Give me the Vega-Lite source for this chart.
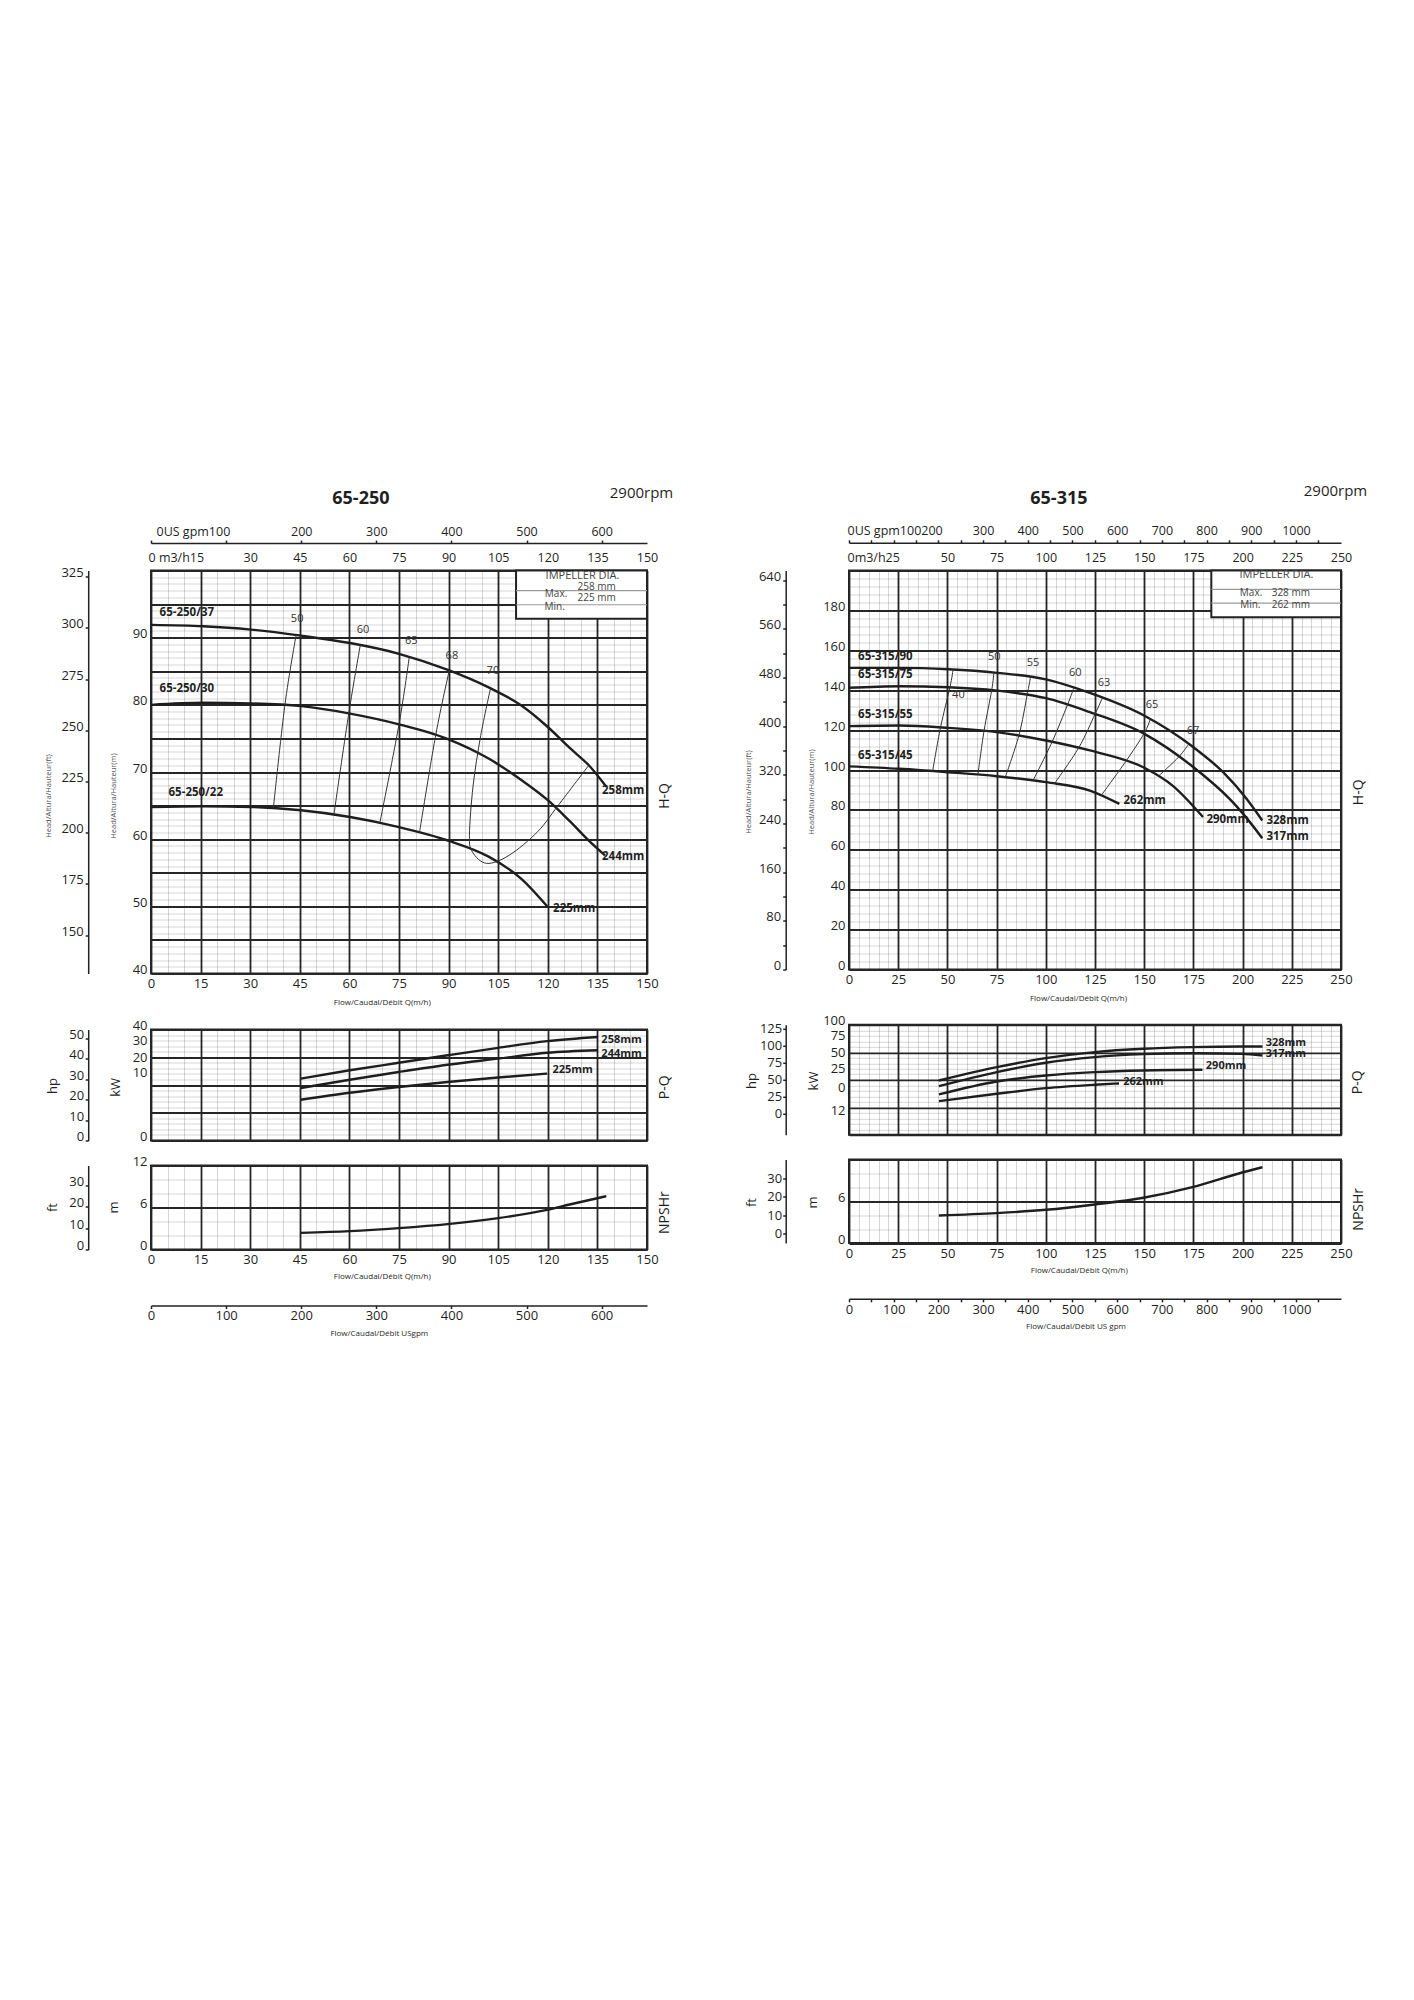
{
"$schema": "https://vega.github.io/schema/vega-lite/v6.json",
"background": "white",
"padding": {"left": 43, "top": 481.5, "right": 5, "bottom": 5},
"config": {
  "font": "Open Sans",
  "view": {"stroke": "#222222", "strokeWidth": 2},
  "axis": {"labelFont": "Open Sans", "titleFont": "Open Sans", "labelColor": "#1f1f1f", "titleColor": "#1f1f1f", "labelFontSize": 13, "titleFontWeight": "normal", "titleFontSize": 14, "labelFlush": false, "labelOverlap": false, "labelBound": false, "grid": false, "ticks": false, "domain": false, "domainColor": "#222222", "domainWidth": 1.5, "tickColor": "#222222", "tickWidth": 1.5, "tickSize": 3, "titlePadding": 0}
},
"datasets": {
  "hqL": [
    {"d":"258","q":0,"h":91.9},{"d":"258","q":15.8,"h":91.7},{"d":"258","q":30.3,"h":91.2},{"d":"258","q":45.4,"h":90.3},{"d":"258","q":60.2,"h":89.2},{"d":"258","q":75,"h":87.6},{"d":"258","q":89.8,"h":85.2},{"d":"258","q":102.1,"h":82.6},{"d":"258","q":112,"h":79.9},{"d":"258","q":120,"h":76.7},{"d":"258","q":126.8,"h":73.5},{"d":"258","q":132.4,"h":71},{"d":"258","q":137.7,"h":67.8},
    {"d":"244","q":0,"h":80},{"d":"244","q":15.8,"h":80.3},{"d":"244","q":30.3,"h":80.2},{"d":"244","q":45.4,"h":79.8},{"d":"244","q":60.2,"h":78.7},{"d":"244","q":75,"h":77.1},{"d":"244","q":89.8,"h":74.9},{"d":"244","q":102.1,"h":72},{"d":"244","q":112,"h":68.8},{"d":"244","q":120,"h":65.8},{"d":"244","q":126.8,"h":62.6},{"d":"244","q":132.4,"h":59.8},{"d":"244","q":137.3,"h":57.6},
    {"d":"225","q":0,"h":64.8},{"d":"225","q":15.8,"h":64.9},{"d":"225","q":30.3,"h":64.8},{"d":"225","q":45.4,"h":64.3},{"d":"225","q":60.2,"h":63.3},{"d":"225","q":75,"h":61.8},{"d":"225","q":89.8,"h":59.8},{"d":"225","q":102.1,"h":57.4},{"d":"225","q":112,"h":54.1},{"d":"225","q":120,"h":49.9}
  ],
  "effL": [
    {"e":"50","o":1,"q":43.9,"h":90.4},{"e":"50","o":2,"q":40.5,"h":80.0},{"e":"50","o":3,"q":37.0,"h":64.6},
    {"e":"60","o":1,"q":63.3,"h":88.9},{"e":"60","o":2,"q":59.8,"h":78.7},{"e":"60","o":3,"q":55.3,"h":63.6},
    {"e":"65","o":1,"q":78.1,"h":87.1},{"e":"65","o":2,"q":75.0,"h":77.1},{"e":"65","o":3,"q":69.2,"h":62.4},
    {"e":"68","o":1,"q":90.2,"h":85.1},{"e":"68","o":2,"q":86.1,"h":75.5},{"e":"68","o":3,"q":81.2,"h":61.0},
    {"e":"70","o":1,"q":102.7,"h":82.5},{"e":"70","o":2,"q":99.7,"h":75.4},{"e":"70","o":3,"q":97.4,"h":67.9},{"e":"70","o":4,"q":96.3,"h":60.6},{"e":"70","o":5,"q":97.2,"h":58.1},{"e":"70","o":6,"q":101.5,"h":56.4},{"e":"70","o":7,"q":108.3,"h":57.6},{"e":"70","o":8,"q":116.9,"h":61.1},{"e":"70","o":9,"q":123.1,"h":65.0},{"e":"70","o":10,"q":132.4,"h":71.0}
  ],
  "labL": [
    {"q":2.6,"h":93.7,"t":"65-250/37"},{"q":2.6,"h":82.4,"t":"65-250/30"},{"q":5.3,"h":66.9,"t":"65-250/22"},
    {"q":136.4,"h":67.2,"t":"258mm"},{"q":136.4,"h":57.3,"t":"244mm"},{"q":121.6,"h":49.6,"t":"225mm"}
  ],
  "effLabL": [
    {"q":44.2,"h":92.8,"t":"50"},{"q":64.1,"h":91.2,"t":"60"},{"q":78.7,"h":89.5,"t":"65"},{"q":91.0,"h":87.2,"t":"68"},{"q":103.4,"h":85.0,"t":"70"}
  ],
  "boxL": [{"q1":110.4,"q2":150,"h1":92.8,"h2":100}],
  "boxLineL": [{"q1":110.4,"q2":150,"h":97.0},{"q1":110.4,"q2":150,"h":94.9}],
  "boxTitleL": [{"q":130.5,"h":99.2,"t":"IMPELLER DIA."}],
  "boxTextL": [
    {"q":134.8,"h":97.6,"t":"258 mm"},{"q":122.5,"h":96.5,"t":"Max."},{"q":134.8,"h":95.9,"t":"225 mm"},{"q":122.1,"h":94.6,"t":"Min."}
  ],
  "pqL": [
    {"d":"258","q":45.3,"p":22.3},{"d":"258","q":60.1,"p":25.3},{"d":"258","q":74.9,"p":28},{"d":"258","q":89.7,"p":30.7},{"d":"258","q":105,"p":33.4},{"d":"258","q":119.8,"p":35.8},{"d":"258","q":135.2,"p":37.3},
    {"d":"244","q":45.3,"p":18.9},{"d":"244","q":60.1,"p":21.9},{"d":"244","q":74.9,"p":24.7},{"d":"244","q":89.7,"p":27.3},{"d":"244","q":105,"p":29.5},{"d":"244","q":119.8,"p":31.6},{"d":"244","q":135.2,"p":32.5},
    {"d":"225","q":45.3,"p":14.7},{"d":"225","q":60.1,"p":17.2},{"d":"225","q":74.9,"p":19.3},{"d":"225","q":89.7,"p":21.1},{"d":"225","q":105,"p":22.7},{"d":"225","q":119.8,"p":24.1}
  ],
  "pqLabL": [{"q":136.2,"p":36.3,"t":"258mm"},{"q":136.2,"p":31.1,"t":"244mm"},{"q":121.4,"p":25.5,"t":"225mm"}],
  "npL": [{"q":45.3,"n":2.38},{"q":60.1,"n":2.62},{"q":74.9,"n":3.05},{"q":89.7,"n":3.62},{"q":105,"n":4.48},{"q":119.8,"n":5.67},{"q":126.6,"n":6.43},{"q":137.7,"n":7.62}],
  "hqR": [
    {"d":"328","q":0,"h":151.2},{"d":"328","q":25.5,"h":151.2},{"d":"328","q":50.4,"h":150.5},{"d":"328","q":75.2,"h":148.7},{"d":"328","q":100.1,"h":145.4},{"d":"328","q":122.4,"h":138.6},{"d":"328","q":149.9,"h":127.3},{"d":"328","q":174.9,"h":111.5},{"d":"328","q":190.1,"h":98.9},{"d":"328","q":202,"h":85.6},{"d":"328","q":210,"h":74.7},
    {"d":"317","q":0,"h":141.2},{"d":"317","q":25.5,"h":142},{"d":"317","q":50.4,"h":141.5},{"d":"317","q":75.2,"h":139.8},{"d":"317","q":100.1,"h":136},{"d":"317","q":122.4,"h":129},{"d":"317","q":150.3,"h":118},{"d":"317","q":174.9,"h":101.5},{"d":"317","q":193.4,"h":85.5},{"d":"317","q":200.3,"h":78},{"d":"317","q":210,"h":65.8},
    {"d":"290","q":0,"h":122},{"d":"290","q":25.5,"h":122.3},{"d":"290","q":50.4,"h":121.1},{"d":"290","q":75.2,"h":119},{"d":"290","q":100.1,"h":114.8},{"d":"290","q":122.4,"h":109.8},{"d":"290","q":150.3,"h":101},{"d":"290","q":164.4,"h":92.2},{"d":"290","q":179.9,"h":76.4},
    {"d":"262","q":0,"h":101.8},{"d":"262","q":25.5,"h":100.6},{"d":"262","q":50.4,"h":98.9},{"d":"262","q":75.2,"h":96.9},{"d":"262","q":100.1,"h":93.9},{"d":"262","q":122.4,"h":89.7},{"d":"262","q":137.4,"h":83}
  ],
  "effR": [
    {"e":"40","o":1,"q":52.9,"h":150.4},{"e":"40","o":2,"q":51.3,"h":141.5},{"e":"40","o":3,"q":46.5,"h":121.3},{"e":"40","o":4,"q":42.5,"h":99.5},
    {"e":"50","o":1,"q":73.6,"h":148.8},{"e":"50","o":2,"q":72.5,"h":139.9},{"e":"50","o":3,"q":68.6,"h":119.5},{"e":"50","o":4,"q":65.5,"h":97.6},
    {"e":"55","o":1,"q":92.2,"h":146.5},{"e":"55","o":2,"q":90.5,"h":137.4},{"e":"55","o":3,"q":86.3,"h":117.2},{"e":"55","o":4,"q":79.4,"h":96.4},
    {"e":"60","o":1,"q":114.2,"h":141.1},{"e":"60","o":2,"q":111.0,"h":132.6},{"e":"60","o":3,"q":103.2,"h":114.1},{"e":"60","o":4,"q":93.5,"h":94.7},
    {"e":"63","o":1,"q":128.7,"h":136.0},{"e":"63","o":2,"q":125.0,"h":128.0},{"e":"63","o":3,"q":116.7,"h":111.1},{"e":"63","o":4,"q":104.3,"h":93.1},
    {"e":"65","o":1,"q":153.0,"h":125.3},{"e":"65","o":2,"q":149.9,"h":118.2},{"e":"65","o":3,"q":140.5,"h":104.1},{"e":"65","o":4,"q":128.1,"h":87.2},
    {"e":"67","o":1,"q":172.6,"h":113.0},{"e":"67","o":2,"q":167.5,"h":106.5},{"e":"67","o":3,"q":157.1,"h":96.8}
  ],
  "labR": [
    {"q":4.6,"h":156.6,"t":"65-315/90"},{"q":4.6,"h":147.5,"t":"65-315/75"},{"q":4.6,"h":127.5,"t":"65-315/55"},{"q":4.6,"h":106.9,"t":"65-315/45"},
    {"q":212.1,"h":74.4,"t":"328mm"},{"q":212.1,"h":66.3,"t":"317mm"},{"q":181.6,"h":75.0,"t":"290mm"},{"q":139.5,"h":84.4,"t":"262mm"}
  ],
  "effLabR": [
    {"q":55.6,"h":137.8,"t":"40"},{"q":73.8,"h":156.6,"t":"50"},{"q":93.5,"h":153.7,"t":"55"},{"q":115.0,"h":148.7,"t":"60"},{"q":129.6,"h":143.7,"t":"63"},{"q":154.0,"h":132.7,"t":"65"},{"q":174.8,"h":119.5,"t":"67"}
  ],
  "boxR": [{"q1":184.1,"q2":250,"h1":176.6,"h2":200}],
  "boxLineR": [{"q1":184.1,"q2":250,"h":190.5},{"q1":184.1,"q2":250,"h":183.6}],
  "boxTitleR": [{"q":217.2,"h":197.5,"t":"IMPELLER DIA."}],
  "boxTextR": [
    {"q":204.3,"h":188.8,"t":"Max."},{"q":224.5,"h":188.8,"t":"328 mm"},{"q":203.9,"h":182.5,"t":"Min."},{"q":224.5,"h":182.5,"t":"262 mm"}
  ],
  "pqR": [
    {"d":"328","q":45.7,"p":49.4},{"d":"328","q":75.1,"p":61.5},{"d":"328","q":100,"p":69.7},{"d":"328","q":124.8,"p":75.2},{"d":"328","q":149.6,"p":78.2},{"d":"328","q":174.5,"p":79.7},{"d":"328","q":199.3,"p":80.3},{"d":"328","q":210.1,"p":80.3},
    {"d":"317","q":45.7,"p":44.2},{"d":"317","q":75.1,"p":57},{"d":"317","q":100,"p":65.5},{"d":"317","q":124.8,"p":70.6},{"d":"317","q":149.6,"p":73.3},{"d":"317","q":174.5,"p":74.2},{"d":"317","q":199.3,"p":73.6},{"d":"317","q":210.1,"p":72.1},
    {"d":"290","q":45.7,"p":36.7},{"d":"290","q":75.1,"p":48.5},{"d":"290","q":100,"p":53.9},{"d":"290","q":124.8,"p":57},{"d":"290","q":149.6,"p":58.5},{"d":"290","q":179.6,"p":59.1},
    {"d":"262","q":45.7,"p":30.6},{"d":"262","q":75.1,"p":37.3},{"d":"262","q":100,"p":42.4},{"d":"262","q":124.8,"p":45.5},{"d":"262","q":137.2,"p":46.7}
  ],
  "pqLabR": [{"q":211.7,"p":83.9,"t":"328mm"},{"q":211.7,"p":73.1,"t":"317mm"},{"q":181.3,"p":62.4,"t":"290mm"},{"q":139.3,"p":47.9,"t":"262mm"}],
  "npR": [{"q":45.7,"n":3.97},{"q":75.1,"n":4.31},{"q":100,"n":4.78},{"q":124.8,"n":5.55},{"q":149.6,"n":6.51},{"q":174.5,"n":8.04},{"q":199.3,"n":10.1},{"q":210.1,"n":10.9}]
},
"hconcat": [
 {
  "bounds": "flush", "spacing": 56,
  "vconcat": [
   {
    "width": 496, "height": 403,
    "resolve": {"scale": {"x": "independent", "y": "independent"}},
    "layer": [
     {
      "data": {"values": [{}]},
      "mark": {"type": "point", "opacity": 0},
      "encoding": {
       "x": {"datum": 75, "type": "quantitative", "scale": {"domain": [0,150], "nice": false, "zero": false},
        "axis": {"orient": "top", "values": [0,5,10,15,20,25,30,35,40,45,50,55,60,65,70,75,80,85,90,95,100,105,110,115,120,125,130,135,140,145,150], "grid": true,
         "gridColor": {"condition": {"test": "datum.value % 15 === 0", "value": "#262626"}, "value": "#000000"},
         "gridOpacity": {"condition": {"test": "datum.value % 15 === 0", "value": 1}, "value": 0.16},
         "gridWidth": {"condition": {"test": "datum.value % 15 === 0", "value": 1.8}, "value": 1},
         "labelExpr": "datum.value === 0 ? '0 m3/h15' : (datum.value % 15 === 0 && datum.value !== 15 ? datum.label : '')",
         "labelAlign": {"condition": {"test": "datum.value === 0", "value": "left"}, "value": "center"},
         "labelOffset": {"condition": {"test": "datum.value === 0", "value": -3}, "value": 0},
         "labelFontSize": 12.5, "labelPadding": 6,
         "title": "65-250", "titleFontSize": 18, "titleFontWeight": "bold", "titleX": 209.4, "titleY": -67.2, "titleAlign": "center", "titleBaseline": "alphabetic", "titleAngle": 0}},
       "y": {"datum": 70, "type": "quantitative", "scale": {"domain": [40,100], "nice": false, "zero": false},
        "axis": {"orient": "right", "values": [40,41,42,43,44,45,46,47,48,49,50,51,52,53,54,55,56,57,58,59,60,61,62,63,64,65,66,67,68,69,70,71,72,73,74,75,76,77,78,79,80,81,82,83,84,85,86,87,88,89,90,91,92,93,94,95,96,97,98,99,100], "grid": true,
         "gridColor": {"condition": {"test": "datum.value % 5 === 0", "value": "#262626"}, "value": "#000000"},
         "gridOpacity": {"condition": {"test": "datum.value % 5 === 0", "value": 1}, "value": 0.16},
         "gridWidth": {"condition": {"test": "datum.value % 5 === 0", "value": 1.8}, "value": 1},
         "labels": false, "title": "H-Q", "titleFontSize": 14, "titleX": 17.5, "titleY": 225, "titleAngle": 270, "titleAlign": "center", "titleBaseline": "middle"}}
      }
     },
     {
      "data": {"values": [{}]},
      "mark": {"type": "point", "opacity": 0},
      "encoding": {
       "x": {"datum": 75, "type": "quantitative", "scale": {"domain": [0,150], "nice": false, "zero": false},
        "axis": {"orient": "bottom", "values": [0,15,30,45,60,75,90,105,120,135,150], "labelPadding": 4, "title": "Flow/Caudal/Débit Q(m/h)", "titleFontSize": 8, "titleX": 230.8, "titleY": 28.5, "titleAlign": "center", "titleBaseline": "middle", "titleAngle": 0}},
       "y": {"datum": 70, "type": "quantitative", "scale": {"domain": [40,100], "nice": false, "zero": false},
        "axis": {"orient": "left", "values": [40,50,60,70,80,90], "labelBaseline": "alphabetic", "labelPadding": 4, "title": "Head/Altura/Hauteur(m)", "titleFontSize": 7.5, "titleColor": "#555555", "titleX": -37.5, "titleY": 225, "titleAngle": 270, "titleAlign": "center", "titleBaseline": "middle"}}
      }
     },
     {
      "layer": [
       {
        "data": {"name": "hqL"},
        "mark": {"type": "line", "color": "#1e1e1e", "strokeWidth": 2.4, "interpolate": "monotone"},
        "encoding": {
         "x": {"field": "q", "type": "quantitative", "scale": {"domain": [0,150], "nice": false, "zero": false}, "axis": null},
         "y": {"field": "h", "type": "quantitative", "scale": {"domain": [40,100], "nice": false, "zero": false}, "axis": null},
         "detail": {"field": "d"}
        }
       },
       {
        "data": {"name": "effL"},
        "mark": {"type": "line", "color": "#333333", "strokeWidth": 1, "interpolate": "cardinal"},
        "encoding": {
         "x": {"field": "q", "type": "quantitative", "scale": {"domain": [0,150], "nice": false, "zero": false}, "axis": null},
         "y": {"field": "h", "type": "quantitative", "scale": {"domain": [40,100], "nice": false, "zero": false}, "axis": null},
         "detail": {"field": "e"}, "order": {"field": "o"}
        }
       },
       {
        "data": {"name": "boxL"},
        "mark": {"type": "rect", "fill": "white", "stroke": "#222222", "strokeWidth": 2},
        "encoding": {
         "x": {"field": "q1", "type": "quantitative", "scale": {"domain": [0,150], "nice": false, "zero": false}, "axis": null},
         "x2": {"field": "q2"},
         "y": {"field": "h1", "type": "quantitative", "scale": {"domain": [40,100], "nice": false, "zero": false}, "axis": null},
         "y2": {"field": "h2"}
        }
       },
       {
        "data": {"name": "boxLineL"},
        "mark": {"type": "rule", "color": "#9a9a9a", "strokeWidth": 1.2},
        "encoding": {
         "x": {"field": "q1", "type": "quantitative", "scale": {"domain": [0,150], "nice": false, "zero": false}, "axis": null},
         "x2": {"field": "q2"},
         "y": {"field": "h", "type": "quantitative", "scale": {"domain": [40,100], "nice": false, "zero": false}, "axis": null}
        }
       },
       {
        "data": {"name": "boxTitleL"},
        "mark": {"type": "text", "fontSize": 11, "color": "#444444", "align": "center", "baseline": "middle"},
        "encoding": {
         "x": {"field": "q", "type": "quantitative", "scale": {"domain": [0,150], "nice": false, "zero": false}, "axis": null},
         "y": {"field": "h", "type": "quantitative", "scale": {"domain": [40,100], "nice": false, "zero": false}, "axis": null},
         "text": {"field": "t"}
        }
       },
       {
        "data": {"name": "boxTextL"},
        "mark": {"type": "text", "fontSize": 10, "color": "#444444", "align": "center", "baseline": "middle"},
        "encoding": {
         "x": {"field": "q", "type": "quantitative", "scale": {"domain": [0,150], "nice": false, "zero": false}, "axis": null},
         "y": {"field": "h", "type": "quantitative", "scale": {"domain": [40,100], "nice": false, "zero": false}, "axis": null},
         "text": {"field": "t"}
        }
       },
       {
        "data": {"name": "labL"},
        "mark": {"type": "text", "fontSize": 11.5, "fontWeight": "bold", "color": "#1f1f1f", "align": "left", "baseline": "middle"},
        "encoding": {
         "x": {"field": "q", "type": "quantitative", "scale": {"domain": [0,150], "nice": false, "zero": false}, "axis": null},
         "y": {"field": "h", "type": "quantitative", "scale": {"domain": [40,100], "nice": false, "zero": false}, "axis": null},
         "text": {"field": "t"}
        }
       },
       {
        "data": {"name": "effLabL"},
        "mark": {"type": "text", "fontSize": 11, "color": "#333333", "align": "center", "baseline": "middle"},
        "encoding": {
         "x": {"field": "q", "type": "quantitative", "scale": {"domain": [0,150], "nice": false, "zero": false}, "axis": null},
         "y": {"field": "h", "type": "quantitative", "scale": {"domain": [40,100], "nice": false, "zero": false}, "axis": null},
         "text": {"field": "t"}
        }
       }
      ]
     },
     {
      "data": {"values": [{}]},
      "mark": {"type": "point", "opacity": 0},
      "encoding": {
       "x": {"datum": 300, "type": "quantitative", "scale": {"domain": [0,660.4], "nice": false, "zero": false},
        "axis": {"orient": "top", "offset": 27.4, "values": [0,100,200,300,400,500,600], "format": "d", "domain": true, "ticks": true, "tickSize": 3, "labelPadding": 2, "labelFontSize": 12.5,
         "labelExpr": "datum.value === 0 ? '0US gpm100' : (datum.value === 100 ? '' : datum.label)",
         "labelAlign": {"condition": {"test": "datum.value === 0", "value": "left"}, "value": "center"},
         "labelOffset": {"condition": {"test": "datum.value === 0", "value": 5}, "value": 0},
         "title": "2900rpm", "titleFontSize": 15, "titleX": 490, "titleY": -45.3, "titleAlign": "center", "titleBaseline": "alphabetic", "titleAngle": 0}},
       "y": {"datum": 200, "type": "quantitative", "scale": {"domain": [131.23,328.08], "nice": false, "zero": false},
        "axis": {"orient": "left", "offset": 62.8, "values": [150,175,200,225,250,275,300,325], "domain": true, "ticks": true, "tickSize": 3, "labelPadding": 2, "labelBaseline": "alphabetic",
         "title": "Head/Altura/Hauteur(ft)", "titleFontSize": 7.5, "titleColor": "#555555", "titleX": -40, "titleY": 225, "titleAngle": 270, "titleAlign": "center", "titleBaseline": "middle"}}
      }
     }
    ]
   },
   {
    "bounds": "flush", "spacing": 25,
    "vconcat": [
     {
      "width": 496, "height": 111,
      "resolve": {"scale": {"x": "independent", "y": "independent"}},
      "layer": [
       {
        "data": {"values": [{}]},
        "mark": {"type": "point", "opacity": 0},
        "encoding": {
         "x": {"datum": 75, "type": "quantitative", "scale": {"domain": [0,150], "nice": false, "zero": false},
          "axis": {"orient": "top", "values": [0,5,10,15,20,25,30,35,40,45,50,55,60,65,70,75,80,85,90,95,100,105,110,115,120,125,130,135,140,145,150], "grid": true,
           "gridColor": {"condition": {"test": "datum.value % 15 === 0", "value": "#262626"}, "value": "#000000"},
           "gridOpacity": {"condition": {"test": "datum.value % 15 === 0", "value": 1}, "value": 0.16},
           "gridWidth": {"condition": {"test": "datum.value % 15 === 0", "value": 1.8}, "value": 1},
           "labels": false, "title": null}},
         "y": {"datum": 20, "type": "quantitative", "scale": {"domain": [0,40], "nice": false, "zero": false},
          "axis": {"orient": "right", "values": [0,2,4,6,8,10,12,14,16,18,20,22,24,26,28,30,32,34,36,38,40], "grid": true,
           "gridColor": {"condition": {"test": "datum.value % 10 === 0", "value": "#262626"}, "value": "#000000"},
           "gridOpacity": {"condition": {"test": "datum.value % 10 === 0", "value": 1}, "value": 0.16},
           "gridWidth": {"condition": {"test": "datum.value % 10 === 0", "value": 1.8}, "value": 1},
           "labels": false, "title": "P-Q", "titleFontSize": 14, "titleX": 17.5, "titleY": 57.3, "titleAngle": 270, "titleAlign": "center", "titleBaseline": "middle"}}
        }
       },
       {
        "data": {"values": [{}]},
        "mark": {"type": "point", "opacity": 0},
        "encoding": {
         "x": {"datum": 75, "type": "quantitative", "scale": {"domain": [0,150], "nice": false, "zero": false}, "axis": null},
         "y": {"datum": 20, "type": "quantitative", "scale": {"domain": [0,40], "nice": false, "zero": false},
          "axis": {"orient": "left", "values": [0,23.1,28.6,34.6,40], "labelExpr": "datum.value > 39 ? '40' : datum.value > 34 ? '30' : datum.value > 28 ? '20' : datum.value > 22 ? '10' : '0'", "labelBaseline": "alphabetic", "labelPadding": 4,
           "title": "kW", "titleFontSize": 13, "titleX": -35.5, "titleY": 57.3, "titleAngle": 270, "titleAlign": "center", "titleBaseline": "middle"}}
        }
       },
       {
        "layer": [
         {
          "data": {"name": "pqL"},
          "mark": {"type": "line", "color": "#1e1e1e", "strokeWidth": 2.4, "interpolate": "monotone"},
          "encoding": {
           "x": {"field": "q", "type": "quantitative", "scale": {"domain": [0,150], "nice": false, "zero": false}, "axis": null},
           "y": {"field": "p", "type": "quantitative", "scale": {"domain": [0,40], "nice": false, "zero": false}, "axis": null},
           "detail": {"field": "d"}
          }
         },
         {
          "data": {"name": "pqLabL"},
          "mark": {"type": "text", "fontSize": 11, "fontWeight": "bold", "color": "#1f1f1f", "align": "left", "baseline": "middle"},
          "encoding": {
           "x": {"field": "q", "type": "quantitative", "scale": {"domain": [0,150], "nice": false, "zero": false}, "axis": null},
           "y": {"field": "p", "type": "quantitative", "scale": {"domain": [0,40], "nice": false, "zero": false}, "axis": null},
           "text": {"field": "t"}
          }
         }
        ]
       },
       {
        "data": {"values": [{}]},
        "mark": {"type": "point", "opacity": 0},
        "encoding": {
         "x": {"datum": 75, "type": "quantitative", "scale": {"domain": [0,150], "nice": false, "zero": false}, "axis": null},
         "y": {"datum": 20, "type": "quantitative", "scale": {"domain": [0,54.4], "nice": false, "zero": false},
          "axis": {"orient": "left", "offset": 62.8, "values": [0,10,20,30,40,50], "domain": true, "ticks": true, "tickSize": 3, "labelPadding": 1.5, "labelBaseline": "alphabetic",
           "title": "hp", "titleFontSize": 13, "titleX": -36, "titleY": 56, "titleAngle": 270, "titleAlign": "center", "titleBaseline": "middle"}}
        }
       }
      ]
     },
     {
      "width": 496, "height": 84,
      "resolve": {"scale": {"x": "independent", "y": "independent"}},
      "layer": [
       {
        "data": {"values": [{}]},
        "mark": {"type": "point", "opacity": 0},
        "encoding": {
         "x": {"datum": 75, "type": "quantitative", "scale": {"domain": [0,150], "nice": false, "zero": false},
          "axis": {"orient": "top", "values": [0,5,10,15,20,25,30,35,40,45,50,55,60,65,70,75,80,85,90,95,100,105,110,115,120,125,130,135,140,145,150], "grid": true,
           "gridColor": {"condition": {"test": "datum.value % 15 === 0", "value": "#262626"}, "value": "#000000"},
           "gridOpacity": {"condition": {"test": "datum.value % 15 === 0", "value": 1}, "value": 0.16},
           "gridWidth": {"condition": {"test": "datum.value % 15 === 0", "value": 1.8}, "value": 1},
           "labels": false, "title": null}},
         "y": {"datum": 6, "type": "quantitative", "scale": {"domain": [0,12], "nice": false, "zero": false},
          "axis": {"orient": "right", "values": [0,2,4,6,8,10,12], "grid": true,
           "gridColor": {"condition": {"test": "datum.value % 6 === 0", "value": "#262626"}, "value": "#000000"},
           "gridOpacity": {"condition": {"test": "datum.value % 6 === 0", "value": 1}, "value": 0.16},
           "gridWidth": {"condition": {"test": "datum.value % 6 === 0", "value": 1.8}, "value": 1},
           "labels": false, "title": "NPSHr", "titleFontSize": 14, "titleX": 17.5, "titleY": 46.6, "titleAngle": 270, "titleAlign": "center", "titleBaseline": "middle"}}
        }
       },
       {
        "data": {"name": "npL"},
        "mark": {"type": "line", "color": "#1e1e1e", "strokeWidth": 2.4, "interpolate": "monotone"},
        "encoding": {
         "x": {"field": "q", "type": "quantitative", "scale": {"domain": [0,150], "nice": false, "zero": false},
          "axis": {"orient": "bottom", "values": [0,15,30,45,60,75,90,105,120,135,150], "labelPadding": 4, "title": "Flow/Caudal/Débit Q(m/h)", "titleFontSize": 8, "titleX": 230.8, "titleY": 26.6, "titleAlign": "center", "titleBaseline": "middle", "titleAngle": 0}},
         "y": {"field": "n", "type": "quantitative", "scale": {"domain": [0,12], "nice": false, "zero": false},
          "axis": {"orient": "left", "values": [0,6,12], "labelBaseline": "alphabetic", "labelPadding": 4, "title": "m", "titleFontSize": 13, "titleX": -37.5, "titleY": 41.6, "titleAngle": 270, "titleAlign": "center", "titleBaseline": "middle"}}
        }
       },
       {
        "data": {"values": [{}]},
        "mark": {"type": "point", "opacity": 0},
        "encoding": {
         "x": {"datum": 300, "type": "quantitative", "scale": {"domain": [0,660.4], "nice": false, "zero": false},
          "axis": {"orient": "bottom", "offset": 56, "values": [0,100,200,300,400,500,600], "format": "d", "domain": true, "ticks": true, "tickSize": 3, "labelPadding": 1,
           "title": "Flow/Caudal/Débit USgpm", "titleFontSize": 8, "titleX": 227.8, "titleY": 28.3, "titleAlign": "center", "titleBaseline": "middle", "titleAngle": 0}},
         "y": {"datum": 20, "type": "quantitative", "scale": {"domain": [0,39.37], "nice": false, "zero": false},
          "axis": {"orient": "left", "offset": 62.8, "values": [0,10,20,30], "domain": true, "ticks": true, "tickSize": 3, "labelPadding": 1.5, "labelBaseline": "alphabetic",
           "title": "ft", "titleFontSize": 13, "titleX": -36, "titleY": 41.6, "titleAngle": 270, "titleAlign": "center", "titleBaseline": "middle"}}
        }
       }
      ]
     }
    ]
   }
  ]
 },
 {
  "bounds": "flush", "spacing": 55.3,
  "vconcat": [
   {
    "width": 492, "height": 399,
    "resolve": {"scale": {"x": "independent", "y": "independent"}},
    "layer": [
     {
      "data": {"values": [{}]},
      "mark": {"type": "point", "opacity": 0},
      "encoding": {
       "x": {"datum": 100, "type": "quantitative", "scale": {"domain": [0,250], "nice": false, "zero": false},
        "axis": {"orient": "top", "values": [0,5,10,15,20,25,30,35,40,45,50,55,60,65,70,75,80,85,90,95,100,105,110,115,120,125,130,135,140,145,150,155,160,165,170,175,180,185,190,195,200,205,210,215,220,225,230,235,240,245,250], "grid": true,
         "gridColor": {"condition": {"test": "datum.value % 25 === 0", "value": "#262626"}, "value": "#000000"},
         "gridOpacity": {"condition": {"test": "datum.value % 25 === 0", "value": 1}, "value": 0.16},
         "gridWidth": {"condition": {"test": "datum.value % 25 === 0", "value": 1.8}, "value": 1},
         "labelExpr": "datum.value === 0 ? '0m3/h25' : (datum.value % 25 === 0 && datum.value !== 25 ? datum.label : '')",
         "labelAlign": {"condition": {"test": "datum.value === 0", "value": "left"}, "value": "center"},
         "labelOffset": {"condition": {"test": "datum.value === 0", "value": -2}, "value": 0},
         "labelFontSize": 12.5, "labelPadding": 6,
         "title": "65-315", "titleFontSize": 18, "titleFontWeight": "bold", "titleX": 209.4, "titleY": -66.9, "titleAlign": "center", "titleBaseline": "alphabetic", "titleAngle": 0}},
       "y": {"datum": 100, "type": "quantitative", "scale": {"domain": [0,200], "nice": false, "zero": false},
        "axis": {"orient": "right", "values": [0,4,8,12,16,20,24,28,32,36,40,44,48,52,56,60,64,68,72,76,80,84,88,92,96,100,104,108,112,116,120,124,128,132,136,140,144,148,152,156,160,164,168,172,176,180,184,188,192,196,200], "grid": true,
         "gridColor": {"condition": {"test": "datum.value % 20 === 0", "value": "#262626"}, "value": "#000000"},
         "gridOpacity": {"condition": {"test": "datum.value % 20 === 0", "value": 1}, "value": 0.16},
         "gridWidth": {"condition": {"test": "datum.value % 20 === 0", "value": 1.8}, "value": 1},
         "labels": false, "title": "H-Q", "titleFontSize": 14, "titleX": 17.2, "titleY": 221.3, "titleAngle": 270, "titleAlign": "center", "titleBaseline": "middle"}}
      }
     },
     {
      "data": {"values": [{}]},
      "mark": {"type": "point", "opacity": 0},
      "encoding": {
       "x": {"datum": 100, "type": "quantitative", "scale": {"domain": [0,250], "nice": false, "zero": false},
        "axis": {"orient": "bottom", "values": [0,25,50,75,100,125,150,175,200,225,250], "labelPadding": 4, "title": "Flow/Caudal/Débit Q(m/h)", "titleFontSize": 8, "titleX": 229, "titleY": 29, "titleAlign": "center", "titleBaseline": "middle", "titleAngle": 0}},
       "y": {"datum": 100, "type": "quantitative", "scale": {"domain": [0,200], "nice": false, "zero": false},
        "axis": {"orient": "left", "values": [0,20,40,60,80,100,120,140,160,180], "labelBaseline": "alphabetic", "labelPadding": 4, "title": "Head/Altura/Hauteur(m)", "titleFontSize": 7.5, "titleColor": "#555555", "titleX": -37.6, "titleY": 221, "titleAngle": 270, "titleAlign": "center", "titleBaseline": "middle"}}
      }
     },
     {
      "layer": [
       {
        "data": {"name": "hqR"},
        "mark": {"type": "line", "color": "#1e1e1e", "strokeWidth": 2.4, "interpolate": "monotone"},
        "encoding": {
         "x": {"field": "q", "type": "quantitative", "scale": {"domain": [0,250], "nice": false, "zero": false}, "axis": null},
         "y": {"field": "h", "type": "quantitative", "scale": {"domain": [0,200], "nice": false, "zero": false}, "axis": null},
         "detail": {"field": "d"}
        }
       },
       {
        "data": {"name": "effR"},
        "mark": {"type": "line", "color": "#333333", "strokeWidth": 1, "interpolate": "cardinal"},
        "encoding": {
         "x": {"field": "q", "type": "quantitative", "scale": {"domain": [0,250], "nice": false, "zero": false}, "axis": null},
         "y": {"field": "h", "type": "quantitative", "scale": {"domain": [0,200], "nice": false, "zero": false}, "axis": null},
         "detail": {"field": "e"}, "order": {"field": "o"}
        }
       },
       {
        "data": {"name": "boxR"},
        "mark": {"type": "rect", "fill": "white", "stroke": "#222222", "strokeWidth": 2},
        "encoding": {
         "x": {"field": "q1", "type": "quantitative", "scale": {"domain": [0,250], "nice": false, "zero": false}, "axis": null},
         "x2": {"field": "q2"},
         "y": {"field": "h1", "type": "quantitative", "scale": {"domain": [0,200], "nice": false, "zero": false}, "axis": null},
         "y2": {"field": "h2"}
        }
       },
       {
        "data": {"name": "boxLineR"},
        "mark": {"type": "rule", "color": "#9a9a9a", "strokeWidth": 1.2},
        "encoding": {
         "x": {"field": "q1", "type": "quantitative", "scale": {"domain": [0,250], "nice": false, "zero": false}, "axis": null},
         "x2": {"field": "q2"},
         "y": {"field": "h", "type": "quantitative", "scale": {"domain": [0,200], "nice": false, "zero": false}, "axis": null}
        }
       },
       {
        "data": {"name": "boxTitleR"},
        "mark": {"type": "text", "fontSize": 11, "color": "#444444", "align": "center", "baseline": "middle"},
        "encoding": {
         "x": {"field": "q", "type": "quantitative", "scale": {"domain": [0,250], "nice": false, "zero": false}, "axis": null},
         "y": {"field": "h", "type": "quantitative", "scale": {"domain": [0,200], "nice": false, "zero": false}, "axis": null},
         "text": {"field": "t"}
        }
       },
       {
        "data": {"name": "boxTextR"},
        "mark": {"type": "text", "fontSize": 10, "color": "#444444", "align": "center", "baseline": "middle"},
        "encoding": {
         "x": {"field": "q", "type": "quantitative", "scale": {"domain": [0,250], "nice": false, "zero": false}, "axis": null},
         "y": {"field": "h", "type": "quantitative", "scale": {"domain": [0,200], "nice": false, "zero": false}, "axis": null},
         "text": {"field": "t"}
        }
       },
       {
        "data": {"name": "labR"},
        "mark": {"type": "text", "fontSize": 11.5, "fontWeight": "bold", "color": "#1f1f1f", "align": "left", "baseline": "middle"},
        "encoding": {
         "x": {"field": "q", "type": "quantitative", "scale": {"domain": [0,250], "nice": false, "zero": false}, "axis": null},
         "y": {"field": "h", "type": "quantitative", "scale": {"domain": [0,200], "nice": false, "zero": false}, "axis": null},
         "text": {"field": "t"}
        }
       },
       {
        "data": {"name": "effLabR"},
        "mark": {"type": "text", "fontSize": 11, "color": "#333333", "align": "center", "baseline": "middle"},
        "encoding": {
         "x": {"field": "q", "type": "quantitative", "scale": {"domain": [0,250], "nice": false, "zero": false}, "axis": null},
         "y": {"field": "h", "type": "quantitative", "scale": {"domain": [0,200], "nice": false, "zero": false}, "axis": null},
         "text": {"field": "t"}
        }
       }
      ]
     },
     {
      "data": {"values": [{}]},
      "mark": {"type": "point", "opacity": 0},
      "encoding": {
       "x": {"datum": 300, "type": "quantitative", "scale": {"domain": [0,1100.8], "nice": false, "zero": false},
        "axis": {"orient": "top", "offset": 27.7, "values": [0,50,100,150,200,250,300,350,400,450,500,550,600,650,700,750,800,850,900,950,1000,1050], "format": "d", "domain": true, "ticks": true, "tickSize": 3, "labelPadding": 2, "labelFontSize": 12.5,
         "labelExpr": "datum.value === 0 ? '0US gpm100200' : (datum.value % 100 === 0 && datum.value > 200 ? datum.label : '')",
         "labelAlign": {"condition": {"test": "datum.value === 0", "value": "left"}, "value": "center"},
         "labelOffset": {"condition": {"test": "datum.value === 0", "value": -2}, "value": 0},
         "title": "2900rpm", "titleFontSize": 15, "titleX": 486, "titleY": -47.6, "titleAlign": "center", "titleBaseline": "alphabetic", "titleAngle": 0}},
       "y": {"datum": 300, "type": "quantitative", "scale": {"domain": [0,656.17], "nice": false, "zero": false},
        "axis": {"orient": "left", "offset": 63.3, "values": [0,40,80,120,160,200,240,280,320,360,400,440,480,520,560,600,640], "labelExpr": "datum.value % 80 === 0 ? datum.label : ''", "domain": true, "ticks": true, "tickSize": 3, "labelPadding": 2, "labelBaseline": "alphabetic",
         "title": "Head/Altura/Hauteur(ft)", "titleFontSize": 7.5, "titleColor": "#555555", "titleX": -37.5, "titleY": 221, "titleAngle": 270, "titleAlign": "center", "titleBaseline": "middle"}}
      }
     }
    ]
   },
   {
    "bounds": "flush", "spacing": 24.7,
    "vconcat": [
     {
      "width": 492, "height": 110,
      "resolve": {"scale": {"x": "independent", "y": "independent"}},
      "layer": [
       {
        "data": {"values": [{}]},
        "mark": {"type": "point", "opacity": 0},
        "encoding": {
         "x": {"datum": 100, "type": "quantitative", "scale": {"domain": [0,250], "nice": false, "zero": false},
          "axis": {"orient": "top", "values": [0,5,10,15,20,25,30,35,40,45,50,55,60,65,70,75,80,85,90,95,100,105,110,115,120,125,130,135,140,145,150,155,160,165,170,175,180,185,190,195,200,205,210,215,220,225,230,235,240,245,250], "grid": true,
           "gridColor": {"condition": {"test": "datum.value % 25 === 0", "value": "#262626"}, "value": "#000000"},
           "gridOpacity": {"condition": {"test": "datum.value % 25 === 0", "value": 1}, "value": 0.16},
           "gridWidth": {"condition": {"test": "datum.value % 25 === 0", "value": 1.8}, "value": 1},
           "labels": false, "title": null}},
         "y": {"datum": 50, "type": "quantitative", "scale": {"domain": [0,100], "nice": false, "zero": false},
          "axis": {"orient": "right", "values": [0,5,10,15,20,25,30,35,40,45,50,55,60,65,70,75,80,85,90,95,100], "grid": true,
           "gridColor": {"condition": {"test": "datum.value % 25 === 0", "value": "#262626"}, "value": "#000000"},
           "gridOpacity": {"condition": {"test": "datum.value % 25 === 0", "value": 1}, "value": 0.16},
           "gridWidth": {"condition": {"test": "datum.value % 25 === 0", "value": 1.8}, "value": 1},
           "labels": false, "title": "P-Q", "titleFontSize": 14, "titleX": 16.4, "titleY": 57, "titleAngle": 270, "titleAlign": "center", "titleBaseline": "middle"}}
        }
       },
       {
        "data": {"values": [{}]},
        "mark": {"type": "point", "opacity": 0},
        "encoding": {
         "x": {"datum": 100, "type": "quantitative", "scale": {"domain": [0,250], "nice": false, "zero": false}, "axis": null},
         "y": {"datum": 50, "type": "quantitative", "scale": {"domain": [0,100], "nice": false, "zero": false},
          "axis": {"orient": "left", "values": [18.5,39.1,57,71.5,86.6,100], "labelExpr": "datum.value > 99 ? '100' : datum.value > 80 ? '75' : datum.value > 65 ? '50' : datum.value > 50 ? '25' : datum.value > 30 ? '0' : '12'", "labelBaseline": "alphabetic", "labelPadding": 4,
           "title": "kW", "titleFontSize": 13, "titleX": -35.5, "titleY": 55.7, "titleAngle": 270, "titleAlign": "center", "titleBaseline": "middle"}}
        }
       },
       {
        "layer": [
         {
          "data": {"name": "pqR"},
          "mark": {"type": "line", "color": "#1e1e1e", "strokeWidth": 2.4, "interpolate": "monotone"},
          "encoding": {
           "x": {"field": "q", "type": "quantitative", "scale": {"domain": [0,250], "nice": false, "zero": false}, "axis": null},
           "y": {"field": "p", "type": "quantitative", "scale": {"domain": [0,100], "nice": false, "zero": false}, "axis": null},
           "detail": {"field": "d"}
          }
         },
         {
          "data": {"name": "pqLabR"},
          "mark": {"type": "text", "fontSize": 11, "fontWeight": "bold", "color": "#1f1f1f", "align": "left", "baseline": "middle"},
          "encoding": {
           "x": {"field": "q", "type": "quantitative", "scale": {"domain": [0,250], "nice": false, "zero": false}, "axis": null},
           "y": {"field": "p", "type": "quantitative", "scale": {"domain": [0,100], "nice": false, "zero": false}, "axis": null},
           "text": {"field": "t"}
          }
         }
        ]
       },
       {
        "data": {"values": [{}]},
        "mark": {"type": "point", "opacity": 0},
        "encoding": {
         "x": {"datum": 100, "type": "quantitative", "scale": {"domain": [0,250], "nice": false, "zero": false}, "axis": null},
         "y": {"datum": 50, "type": "quantitative", "scale": {"domain": [-30.9,130.9], "nice": false, "zero": false},
          "axis": {"orient": "left", "offset": 63.3, "values": [0,25,50,75,100,125], "domain": true, "ticks": true, "tickSize": 3, "labelPadding": 1, "labelBaseline": "middle",
           "title": "hp", "titleFontSize": 13, "titleX": -34.3, "titleY": 55.7, "titleAngle": 270, "titleAlign": "center", "titleBaseline": "middle"}}
        }
       }
      ]
     },
     {
      "width": 492, "height": 83.6,
      "resolve": {"scale": {"x": "independent", "y": "independent"}},
      "layer": [
       {
        "data": {"values": [{}]},
        "mark": {"type": "point", "opacity": 0},
        "encoding": {
         "x": {"datum": 100, "type": "quantitative", "scale": {"domain": [0,250], "nice": false, "zero": false},
          "axis": {"orient": "top", "values": [0,5,10,15,20,25,30,35,40,45,50,55,60,65,70,75,80,85,90,95,100,105,110,115,120,125,130,135,140,145,150,155,160,165,170,175,180,185,190,195,200,205,210,215,220,225,230,235,240,245,250], "grid": true,
           "gridColor": {"condition": {"test": "datum.value % 25 === 0", "value": "#262626"}, "value": "#000000"},
           "gridOpacity": {"condition": {"test": "datum.value % 25 === 0", "value": 1}, "value": 0.16},
           "gridWidth": {"condition": {"test": "datum.value % 25 === 0", "value": 1.8}, "value": 1},
           "labels": false, "title": null}},
         "y": {"datum": 6, "type": "quantitative", "scale": {"domain": [0,12], "nice": false, "zero": false},
          "axis": {"orient": "right", "values": [0,2,4,6,8,10,12], "grid": true,
           "gridColor": {"condition": {"test": "datum.value % 6 === 0", "value": "#262626"}, "value": "#000000"},
           "gridOpacity": {"condition": {"test": "datum.value % 6 === 0", "value": 1}, "value": 0.16},
           "gridWidth": {"condition": {"test": "datum.value % 6 === 0", "value": 1.8}, "value": 1},
           "labels": false, "title": "NPSHr", "titleFontSize": 14, "titleX": 17.2, "titleY": 49.3, "titleAngle": 270, "titleAlign": "center", "titleBaseline": "middle"}}
        }
       },
       {
        "data": {"name": "npR"},
        "mark": {"type": "line", "color": "#1e1e1e", "strokeWidth": 2.4, "interpolate": "monotone"},
        "encoding": {
         "x": {"field": "q", "type": "quantitative", "scale": {"domain": [0,250], "nice": false, "zero": false},
          "axis": {"orient": "bottom", "values": [0,25,50,75,100,125,150,175,200,225,250], "labelPadding": 4, "title": "Flow/Caudal/Débit Q(m/h)", "titleFontSize": 8, "titleX": 229.8, "titleY": 27.4, "titleAlign": "center", "titleBaseline": "middle", "titleAngle": 0}},
         "y": {"field": "n", "type": "quantitative", "scale": {"domain": [0,12], "nice": false, "zero": false},
          "axis": {"orient": "left", "values": [0,6], "labelBaseline": "alphabetic", "labelPadding": 4, "title": "m", "titleFontSize": 13, "titleX": -36.3, "titleY": 42.6, "titleAngle": 270, "titleAlign": "center", "titleBaseline": "middle"}}
        }
       },
       {
        "data": {"values": [{}]},
        "mark": {"type": "point", "opacity": 0},
        "encoding": {
         "x": {"datum": 300, "type": "quantitative", "scale": {"domain": [0,1100.8], "nice": false, "zero": false},
          "axis": {"orient": "bottom", "offset": 55.7, "values": [0,50,100,150,200,250,300,350,400,450,500,550,600,650,700,750,800,850,900,950,1000,1050], "format": "d", "labelExpr": "datum.value % 100 === 0 ? datum.label : ''", "domain": true, "ticks": true, "tickSize": 3, "labelPadding": 1.5,
           "title": "Flow/Caudal/Débit US gpm", "titleFontSize": 8, "titleX": 226.5, "titleY": 27.3, "titleAlign": "center", "titleBaseline": "middle", "titleAngle": 0}},
         "y": {"datum": 20, "type": "quantitative", "scale": {"domain": [-5.5,40.7], "nice": false, "zero": false},
          "axis": {"orient": "left", "offset": 63.3, "values": [0,10,20,30], "domain": true, "ticks": true, "tickSize": 3, "labelPadding": 1, "labelBaseline": "middle",
           "title": "ft", "titleFontSize": 13, "titleX": -34.3, "titleY": 42.6, "titleAngle": 270, "titleAlign": "center", "titleBaseline": "middle"}}
        }
       }
      ]
     }
    ]
   }
  ]
 }
],
"spacing": 698,
"bounds": "flush"
}
